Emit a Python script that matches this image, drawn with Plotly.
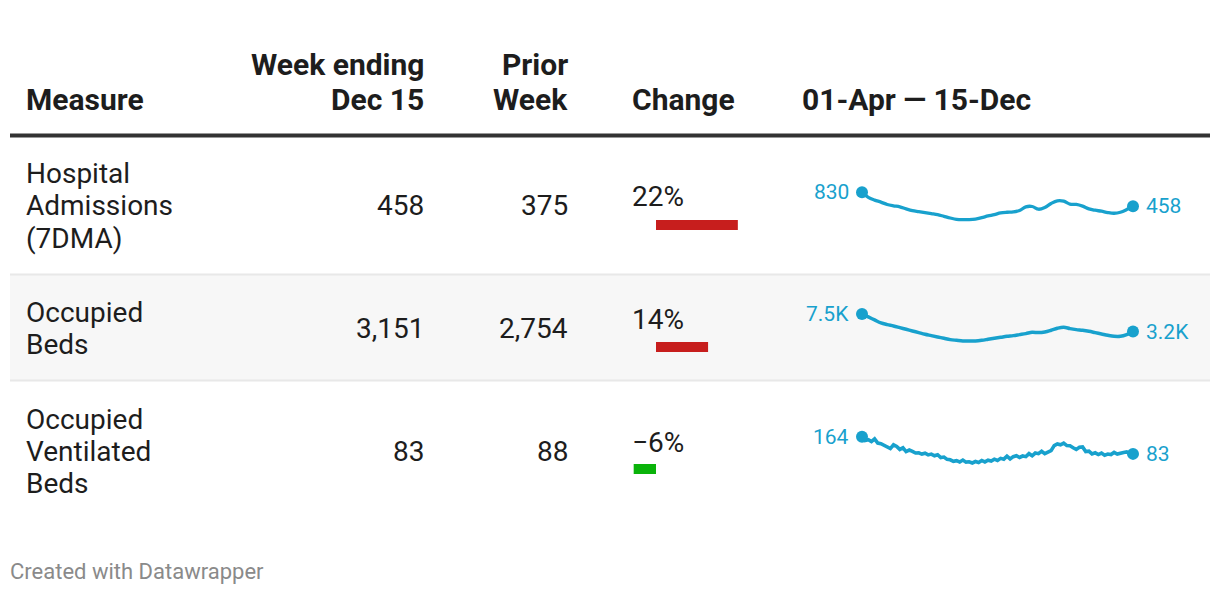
import pandas as pd
import plotly.graph_objects as go

W, H = 1220, 594
OFF = 8  # page body margin the browser adds around the figure
FONT = "Roboto"
TEXT = "#1d1d1d"
BLUE = "#18a1cd"
RED = "#c71e1d"
GREEN = "#0ab30a"

# table data
measures = [["Hospital", "Admissions", "(7DMA)"], ["Occupied", "Beds"], ["Occupied", "Ventilated", "Beds"]]
week_ending = [458, 3151, 83]
prior_week = [375, 2754, 88]
start_date, end_date = "2022-04-01", "2022-12-15"

# sparkline values, every 6 days / every 3 days
admissions = [830, 694, 621, 567, 503, 467, 440, 386, 340, 313, 286, 259, 231, 186, 141,
              104, 95, 98, 113, 150, 195, 231, 277, 295, 304, 340, 440, 449, 376, 422,
              531, 603, 594, 513, 503, 458, 386, 349, 322, 286, 268, 295, 367, 458]
occupied_beds = [7480, 6761, 6023, 5284, 4874, 4546, 4136, 3725, 3315, 2905, 2494, 2166, 1838,
                 1510, 1181, 1017, 870, 842, 860, 1017, 1264, 1510, 1756, 2002, 2166, 2412,
                 2658, 2987, 2905, 3069, 3479, 3971, 4218, 3889, 3643, 3479, 3233, 2905, 2576,
                 2248, 2002, 2002, 2412, 3151]
ventilated_beds = [164, 146, 150, 141, 154, 134, 131, 124, 116, 108,
                   126, 118, 104, 112, 94, 101, 95, 87, 88, 82,
                   86, 78, 82, 74, 79, 66, 68, 57, 55, 48,
                   51, 45, 54, 44, 46, 40, 47, 42, 52, 45,
                   53, 49, 58, 52, 62, 58, 72, 59, 70, 74,
                   66, 73, 70, 84, 74, 87, 84, 95, 84, 93,
                   98, 122, 130, 126, 134, 122, 121, 112, 104, 114,
                   116, 94, 96, 83, 88, 80, 87, 77, 82, 80,
                   90, 82, 88, 90, 92, 84, 83]

dates_6d = pd.date_range(start_date, end_date, freq="6D")
dates_3d = pd.date_range(start_date, end_date, freq="3D")


def fx(px):
    return (px - OFF) / W


def fy(py):
    return 1 - (py - OFF) / H


fig = go.Figure()


def label(text, x, y, anchor="left", size=28, bold=False, color=TEXT):
    fig.add_annotation(x=fx(x), y=fy(y), xref="paper", yref="paper", text=text,
                       showarrow=False, xanchor=anchor, yanchor="middle", borderpad=0,
                       font=dict(family=FONT, size=size, color=color, weight=700 if bold else 400))


# row background + rules
fig.add_shape(type="rect", xref="paper", yref="paper", x0=fx(10), x1=fx(1210), y0=fy(380), y1=fy(275),
              fillcolor="#f7f7f7", line_width=0, layer="below")
for yy in [274.5, 380.5]:
    fig.add_shape(type="line", xref="paper", yref="paper", x0=fx(10), x1=fx(1210), y0=fy(yy), y1=fy(yy),
                  line=dict(color="#e8e8e8", width=2), layer="below")
fig.add_shape(type="line", xref="paper", yref="paper", x0=fx(10), x1=fx(1210), y0=fy(135.5), y1=fy(135.5),
              line=dict(color="#333333", width=4))

# header
HS = 30
label("Measure", 25, 99, size=HS, bold=True)
label("Week ending", 425, 64, "right", size=HS, bold=True)
label("Dec 15", 425, 99, "right", size=HS, bold=True)
label("Prior", 569, 64, "right", size=HS, bold=True)
label("Week", 569, 99, "right", size=HS, bold=True)
label("Change", 631, 99, size=HS, bold=True)
label("01-Apr — 15-Dec", 801, 99, size=HS, bold=True)

# body text
row_centers = [206, 328, 451]
for lines, cur, prev, yc in zip(measures, week_ending, prior_week, row_centers):
    y0 = yc - 32 * (len(lines) - 1) / 2
    for k, ln in enumerate(lines):
        label(ln, 25, y0 + 32 * k)
    label(f"{cur:,}", 425, yc, "right")
    label(f"{prev:,}", 569, yc, "right")

# change column
change = [round((c - p) / p * 100) for c, p in zip(week_ending, prior_week)]
for ch, yc in zip(change, row_centers):
    txt = f"{ch}%" if ch >= 0 else f"\u2212{abs(ch)}%"
    label(txt, 631, yc - 9)

px_per_pct = 3.72
fig.add_trace(go.Bar(
    x=change, y=[0, 1, 2], orientation="h", width=10 / 122,
    marker=dict(color=[RED if c > 0 else GREEN for c in change], line_width=0),
    xaxis="x", yaxis="y", hoverinfo="skip"))
fig.update_layout(
    xaxis=dict(domain=[fx(620), fx(760)], range=[(620 - 656) / px_per_pct, (760 - 656) / px_per_pct], visible=False),
    yaxis=dict(domain=[fy(530), fy(164)], range=[2.5, -0.5], visible=False),
)


def fmt(v):
    return f"{v / 1000:.1f}K" if v >= 1000 else str(v)


# sparklines
sparks = [(dates_6d, admissions, 192.3, 219.7, "spline", 3.3),
          (dates_6d, occupied_beds, 314, 341, "spline", 3.5),
          (dates_3d, ventilated_beds, 436.7, 463, "linear", 3.6)]
pad = 5
for i, (dates, vals, top, bot, shape, lw) in enumerate(sparks):
    n = i + 2
    vmin, vmax = min(vals), max(vals)
    per_px = (vmax - vmin) / (bot - top)
    fig.add_trace(go.Scatter(x=dates, y=vals, mode="lines", line=dict(color=BLUE, width=lw, shape=shape),
                             xaxis=f"x{n}", yaxis=f"y{n}", hoverinfo="skip"))
    fig.add_trace(go.Scatter(x=[dates[0], dates[-1]], y=[vals[0], vals[-1]], mode="markers",
                             marker=dict(size=12, color=BLUE), cliponaxis=False,
                             xaxis=f"x{n}", yaxis=f"y{n}", hoverinfo="skip"))
    fig.update_layout({
        f"xaxis{n}": dict(domain=[fx(862), fx(1133)], range=[dates[0], dates[-1]], visible=False,
                          anchor=f"y{n}"),
        f"yaxis{n}": dict(domain=[fy(bot + pad), fy(top - pad)],
                          range=[vmin - pad * per_px, vmax + pad * per_px], visible=False, anchor=f"x{n}"),
    })
    for d, v, anchor, shift in [(dates[0], vals[0], "right", -12), (dates[-1], vals[-1], "left", 12)]:
        fig.add_annotation(x=d.strftime("%Y-%m-%d"), y=v, xref=f"x{n}", yref=f"y{n}", text=fmt(v),
                           showarrow=False, xanchor=anchor, yanchor="middle", xshift=shift, borderpad=0,
                           font=dict(family=FONT, size=21, color=BLUE))

# footer
label("Created with Datawrapper", 9, 571, size=22, color="#8a8a8a")

fig.update_layout(width=W, height=H, margin=dict(l=0, r=0, t=0, b=0), showlegend=False,
                  paper_bgcolor="white", plot_bgcolor="rgba(0,0,0,0)")

fig.write_html("out.html")
